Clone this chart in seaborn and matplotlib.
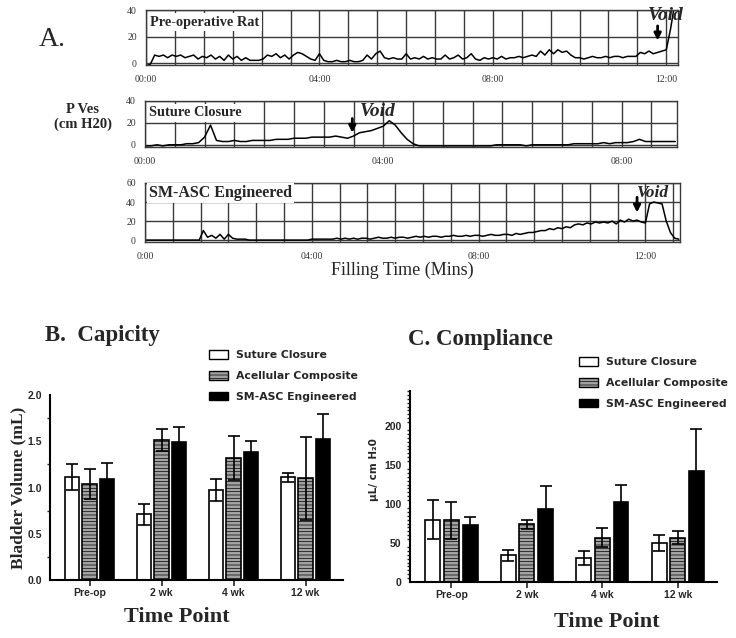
import numpy as np
import pandas as pd
import matplotlib
matplotlib.use('Agg')
import matplotlib.pyplot as plt
import matplotlib.patches as mpatches
from matplotlib.ticker import MultipleLocator, FormatStrFormatter
import seaborn as sns

# ---- cystometry traces (cm H2O, one reading every 0.1 min) ----
pre_op_pves = [-2, -1, 6, 5, 6, 4, 6, 5, 6, 4,
               5, 6, 3, 5, 4, 6, 3, 5, 2, 6,
               3, 5, 2, 4, 2, 2, 2, 3, 6, 5,
               7, 4, 6, 3, 6, 8, 7, 5, 3, 2,
               7, 2, 1, 1, 2, 1, 1, 2, 1, 1,
               2, 6, 3, 7, 9, 4, 3, 4, 3, 3,
               7, 3, 4, 3, 5, 3, 4, 3, 3, 6,
               3, 4, 6, 3, 4, 7, 3, 2, 4, 3,
               4, 3, 5, 3, 4, 4, 5, 4, 5, 6,
               5, 9, 6, 10, 7, 10, 8, 9, 6, 4,
               4, 3, 4, 5, 4, 4, 5, 4, 5, 5,
               4, 5, 5, 5, 8, 7, 9, 7, 8, 9,
               10, 26, 46]
suture_pves = [-1, -1, 0, -1, 0, 0, 0, 1, 1, 2,
               7, 18, 4, 3, 3, 4, 3, 3, 4, 4,
               4, 4, 5, 5, 5, 6, 6, 6, 7, 7,
               7, 7, 8, 7, 6, 8, 11, 12, 13, 15,
               17, 22, 18, 11, 5, 1, -1, -1, -1, -1,
               -1, -1, -1, -1, -1, -1, -1, -1, -1, 0,
               0, 0, 0, 0, -1, 0, 0, 0, 0, 0,
               0, 0, 1, 1, 1, 1, 1, 2, 1, 2,
               2, 2, 3, 5, 3, 3, 3, 3, 3, 3]
smasc_pves = [0, 0, 0, 0, 0, 0, 0, 0, 0, 0,
              0, 0, 0, 0, 10, 3, 5, 2, 6, 1,
              6, 2, 1, 1, 1, 0, 0, 0, 0, 0,
              0, 0, 0, 0, 0, 0, 0, 0, 0, 0,
              1, 1, 1, 1, 1, 1, 2, 1, 2, 1,
              2, 1, 2, 2, 1, 2, 3, 2, 2, 3,
              2, 3, 3, 2, 3, 4, 3, 4, 3, 4,
              4, 3, 4, 4, 5, 4, 4, 5, 4, 5,
              5, 4, 5, 6, 5, 5, 6, 6, 5, 7,
              6, 7, 8, 8, 9, 10, 10, 12, 11, 13,
              12, 14, 13, 16, 17, 16, 18, 17, 19, 18,
              19, 18, 20, 17, 21, 19, 22, 20, 21, 19,
              18, 38, 40, 39, 38, 20, 8, 2, 1]
sample_step = 0.1

# void times (min)
void_pre, void_suture, void_smasc = 11.8, 3.48, 11.8

# ---- bar chart data ----
timepoints = ['Pre-op', '2 wk', '4 wk', '12 wk']
groups = ['Suture Closure', 'Acellular Composite', 'SM-ASC Engineered']
cap_suture = [1.11, 0.71, 0.97, 1.11]
cap_suture_sd = [0.14, 0.11, 0.12, 0.05]
cap_acell = [1.04, 1.51, 1.32, 1.10]
cap_acell_sd = [0.16, 0.12, 0.24, 0.45]
cap_smasc = [1.09, 1.49, 1.38, 1.52]
cap_smasc_sd = [0.17, 0.16, 0.12, 0.27]
comp_suture = [80, 34, 31, 50]
comp_suture_sd = [25, 7, 9, 10]
comp_acell = [79, 74, 57, 57]
comp_acell_sd = [24, 6, 12, 8]
comp_smasc = [73, 93, 103, 143]
comp_smasc_sd = [10, 30, 22, 53]

sns.set_style('white')
plt.rcParams['font.family'] = ['Liberation Serif', 'DejaVu Serif']
plt.rcParams['hatch.linewidth'] = 0.5

W, H = 736, 638
fig = plt.figure(figsize=(W / 100, H / 100), dpi=100)
gray = '#a2a2a2'


def box(l, t, r, b):
    return [l / W, 1 - b / H, (r - l) / W, (b - t) / H]


def trace(rect, vals, xmax, ylim, yticks, xticks, xlabels, grid_step, name, name_y, name_fs):
    ax = fig.add_axes(box(*rect))
    t = np.arange(len(vals)) * sample_step
    sns.lineplot(x=t, y=vals, ax=ax, color='black', lw=1.1)
    ax.set_xlim(0, xmax)
    ax.set_ylim(*ylim)
    ax.set_yticks(yticks)
    ax.set_xticks(xticks)
    ax.set_xticklabels(xlabels)
    ax.xaxis.set_minor_locator(MultipleLocator(grid_step))
    ax.grid(True, which='both', axis='x', color='#3a3a3a', lw=1.0)
    ax.grid(True, which='major', axis='y', color='#3a3a3a', lw=1.0)
    ax.tick_params(axis='both', which='both', labelsize=7, colors='#333', length=3)
    ax.tick_params(axis='x', pad=4)
    for s in ax.spines.values():
        s.set_color('#3a3a3a')
        s.set_linewidth(1.0)
    ax.set_xlabel('')
    ax.set_ylabel('')
    ax.text(0.008, name_y, name, transform=ax.transAxes, fontsize=name_fs, fontweight='bold',
            va='center', ha='left', zorder=5,
            bbox=dict(facecolor='white', edgecolor='none', pad=1.5))
    return ax


ax1 = trace((146, 10, 678, 65), pre_op_pves, 12.27, (-1.5, 40), [0, 20, 40],
            [0, 4, 8, 12], ['00:00', '04:00', '08:00', '12:00'], 2 / 3,
            'Pre-operative Rat', 0.78, 10.3)
ax2 = trace((145, 101, 677, 147), suture_pves, 8.93, (-2, 40), [0, 20, 40],
            [0, 4, 8], ['00:00', '04:00', '08:00'], 0.5,
            'Suture Closure', 0.74, 10.3)
ax3 = trace((145, 183, 680, 242), smasc_pves, 12.83, (-2, 60), [0, 20, 40, 60],
            [0, 4, 8, 12], ['0:00', '04:00', '08:00', '12:00'], 2 / 3,
            'SM-ASC Engineered', 0.83, 11.5)

arrow = dict(arrowstyle='-|>', color='black', lw=2.0, mutation_scale=10, shrinkA=0, shrinkB=0)
for ax, tv, tail, tip, tx, ty, fs in [(ax1, void_pre, 28, 17, 11.98, 36, 14),
                                     (ax2, void_suture, 24, 11, 3.9, 30, 14),
                                     (ax3, void_smasc, 45, 29, 12.18, 50, 12.5)]:
    ax.annotate('', xy=(tv, tip), xytext=(tv, tail), arrowprops=arrow, zorder=6)
    ax.text(tx, ty, 'Void', fontsize=fs, fontweight='bold', style='italic',
            ha='center', va='center', zorder=6, clip_on=False)


def ftext(x, y, s, **kw):
    fig.text(x / W, 1 - y / H, s, **kw)


ftext(52, 40, 'A.', fontsize=20, ha='center', va='center')
ftext(83, 117, 'P Ves\n(cm H20)', fontsize=10.5, fontweight='bold', ha='center', va='center',
      linespacing=1.2)
ftext(402, 270, 'Filling Time (Mins)', fontsize=13, ha='center', va='center')


def bars(rect, means, sds, ylim, yticks, fmt, minor, ylabel_kw, leg_xy):
    ax = fig.add_axes(box(*rect))
    df = pd.DataFrame({
        'time': timepoints * 3,
        'group': [g for g in groups for _ in timepoints],
        'value': means[0] + means[1] + means[2],
    })
    sns.barplot(data=df, x='time', y='value', hue='group', order=timepoints, hue_order=groups,
                palette=['white', gray, 'black'], width=0.74, gap=0.2,
                edgecolor='black', linewidth=1.2, errorbar=None, legend=False, ax=ax)
    for bar in ax.containers[1]:
        bar.set_hatch('-----')
    for cont, sd in zip(ax.containers, sds):
        xs = [b.get_x() + b.get_width() / 2 for b in cont]
        ys = [b.get_height() for b in cont]
        ax.errorbar(xs, ys, yerr=sd, fmt='none', ecolor='black', elinewidth=1.2,
                    capsize=4, capthick=1.2, zorder=3)
    ax.set_xlim(-0.55, 3.52)
    ax.set_ylim(*ylim)
    ax.set_yticks(yticks)
    ax.yaxis.set_major_formatter(FormatStrFormatter(fmt))
    ax.yaxis.set_minor_locator(MultipleLocator(minor))
    sns.despine(ax=ax)
    for s in ('left', 'bottom'):
        ax.spines[s].set_linewidth(1.5)
        ax.spines[s].set_color('black')
    ax.tick_params(axis='both', which='major', length=4, width=1.2, direction='out',
                   labelsize=7.5, pad=2)
    ax.tick_params(axis='y', which='minor', left=True, length=2, width=1.0, direction='out')
    ax.tick_params(axis='x', bottom=True)
    for lab in ax.get_xticklabels() + ax.get_yticklabels():
        lab.set_fontfamily('Liberation Sans')
        lab.set_fontweight('bold')
    ax.set_xlabel('')
    ax.set_ylabel('')
    ftext(*ylabel_kw.pop('xy'), ylabel_kw.pop('text'), rotation=90, ha='center', va='center',
          **ylabel_kw)
    handles = [mpatches.Patch(facecolor=c, edgecolor='black', lw=1.0, hatch=h, label=g)
               for c, h, g in zip(['white', gray, 'black'], ['', '-----', ''], groups)]
    ax.legend(handles=handles, loc='upper left', bbox_to_anchor=(leg_xy[0] / W, 1 - leg_xy[1] / H),
              bbox_transform=fig.transFigure, frameon=False, borderpad=0, borderaxespad=0,
              handlelength=1.75, handleheight=0.85, handletextpad=0.75, labelspacing=1.0,
              prop={'family': 'DejaVu Sans', 'weight': 'bold', 'size': 7.8})
    return ax


axB = bars((50, 395, 343, 580), [cap_suture, cap_acell, cap_smasc],
           [cap_suture_sd, cap_acell_sd, cap_smasc_sd], (0, 2.0), [0, 0.5, 1.0, 1.5, 2.0],
           '%.1f', 0.25,
           dict(xy=(18, 488), text='Bladder Volume (mL)', fontsize=12.5, fontweight='bold'),
           (209, 350))
axC = bars((410, 391, 717, 582), [comp_suture, comp_acell, comp_smasc],
           [comp_suture_sd, comp_acell_sd, comp_smasc_sd], (0, 245), [0, 50, 100, 150, 200],
           '%d', 5,
           dict(xy=(374, 470), text='μL/ cm H₂0', fontsize=7.5, fontweight='bold',
                family='DejaVu Sans'),
           (579, 357))

ftext(45, 335, 'B.  Capicity', fontsize=16.5, fontweight='bold', ha='left', va='center')
ftext(408, 340, 'C. Compliance', fontsize=16.5, fontweight='bold', ha='left', va='center')
ftext(177, 617, 'Time Point', fontsize=16, fontweight='bold', ha='center', va='center')
ftext(607, 622, 'Time Point', fontsize=16, fontweight='bold', ha='center', va='center')

fig.savefig('out.png', dpi=100)
